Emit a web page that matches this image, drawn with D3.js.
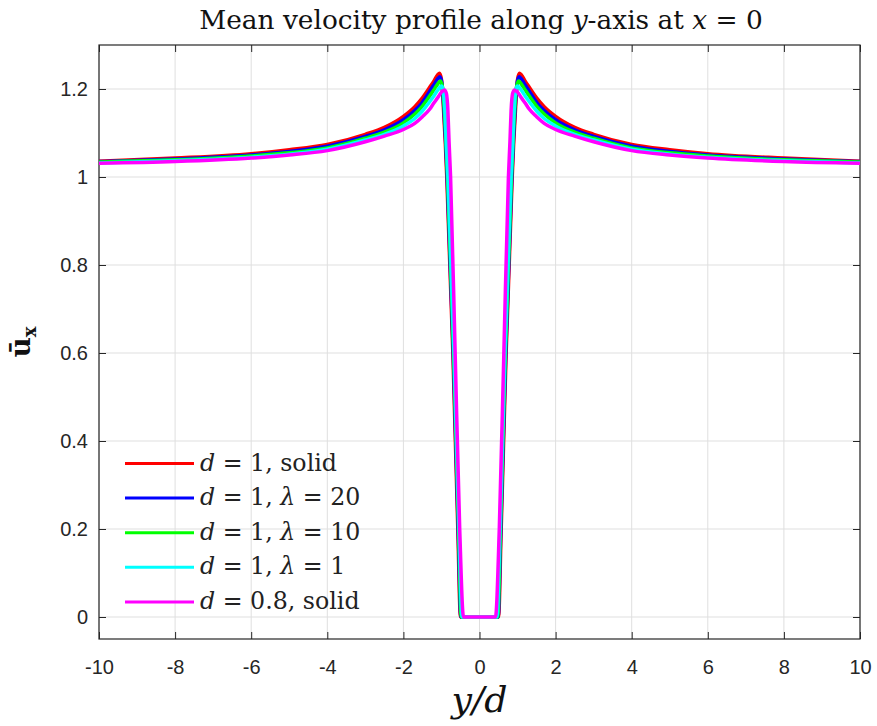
<!DOCTYPE html>
<html><head><meta charset="utf-8">
<script src="https://cdn.jsdelivr.net/npm/d3@7"></script>
<style>body{margin:0;background:#fff}svg{display:block}</style>
</head><body><svg id="c" width="877" height="726"></svg>
<script>
const xTicks = [-10,-8,-6,-4,-2,0,2,4,6,8,10];
const yTicks = [0,0.2,0.4,0.6,0.8,1,1.2];
const seriesNames = ["d = 1, solid","d = 1, λ = 20","d = 1, λ = 10","d = 1, λ = 1","d = 0.8, solid"];
const seriesColors = ["#ff0000","#0000ff","#00ff00","#00ffff","#ff00ff"];

const xRed = [-10,-8,-6,-5,-4,-3,-2.5,-2,-1.7,-1.5,-1.3,-1.2,-1.1,-1.05,-1.0,-0.95,-0.9,-0.86,-0.7,-0.57,-0.5,0,0.5,0.57,0.7,0.86,0.9,0.95,1.0,1.05,1.1,1.2,1.3,1.5,1.7,2,2.5,3,4,5,6,8,10];
const yRed = [1.036,1.043,1.053,1.062,1.074,1.097,1.113,1.138,1.160,1.180,1.205,1.218,1.232,1.236,1.222,1.160,1.080,1.000,0.600,0.200,0,0,0,0.200,0.600,1.000,1.080,1.160,1.222,1.236,1.232,1.218,1.205,1.180,1.160,1.138,1.113,1.097,1.074,1.062,1.053,1.043,1.036];

const xBlue = [-10,-8,-6,-5,-4,-3,-2.5,-2,-1.7,-1.5,-1.3,-1.2,-1.1,-1.04,-0.99,-0.94,-0.89,-0.85,-0.69,-0.56,-0.49,0,0.49,0.56,0.69,0.85,0.89,0.94,0.99,1.04,1.1,1.2,1.3,1.5,1.7,2,2.5,3,4,5,6,8,10];
const yBlue = [1.035,1.041,1.050,1.058,1.070,1.092,1.107,1.130,1.151,1.170,1.196,1.209,1.223,1.228,1.215,1.160,1.080,1.000,0.600,0.200,0,0,0,0.200,0.600,1.000,1.080,1.160,1.215,1.228,1.223,1.209,1.196,1.170,1.151,1.130,1.107,1.092,1.070,1.058,1.050,1.041,1.035];

const xGreen = [-10,-8,-6,-5,-4,-3,-2.5,-2,-1.7,-1.5,-1.3,-1.2,-1.1,-1.03,-0.98,-0.93,-0.88,-0.84,-0.68,-0.55,-0.48,0,0.48,0.55,0.68,0.84,0.88,0.93,0.98,1.03,1.1,1.2,1.3,1.5,1.7,2,2.5,3,4,5,6,8,10];
const yGreen = [1.034,1.039,1.048,1.055,1.066,1.088,1.102,1.123,1.143,1.161,1.185,1.198,1.211,1.218,1.208,1.160,1.080,1.000,0.600,0.200,0,0,0,0.200,0.600,1.000,1.080,1.160,1.208,1.218,1.211,1.198,1.185,1.161,1.143,1.123,1.102,1.088,1.066,1.055,1.048,1.039,1.034];

const xCyan = [-10,-8,-6,-5,-4,-3,-2.5,-2,-1.7,-1.5,-1.3,-1.2,-1.1,-1.0,-0.96,-0.91,-0.87,-0.83,-0.67,-0.54,-0.46,0,0.46,0.54,0.67,0.83,0.87,0.91,0.96,1.0,1.1,1.2,1.3,1.5,1.7,2,2.5,3,4,5,6,8,10];
const yCyan = [1.032,1.037,1.045,1.052,1.063,1.084,1.097,1.116,1.133,1.150,1.172,1.184,1.197,1.207,1.200,1.150,1.070,1.000,0.600,0.200,0,0,0,0.200,0.600,1.000,1.070,1.150,1.200,1.207,1.197,1.184,1.172,1.150,1.133,1.116,1.097,1.084,1.063,1.052,1.045,1.037,1.032];

const xMag = [-10,-8,-6,-5,-4,-3,-2.5,-2,-1.7,-1.5,-1.3,-1.2,-1.1,-1.0,-0.92,-0.87,-0.83,-0.8,-0.76,-0.64,-0.52,-0.42,0,0.42,0.52,0.64,0.76,0.8,0.83,0.87,0.92,1.0,1.1,1.2,1.3,1.5,1.7,2,2.5,3,4,5,6,8,10];
const yMag = [1.031,1.035,1.043,1.050,1.060,1.080,1.093,1.108,1.122,1.137,1.155,1.168,1.180,1.193,1.198,1.190,1.150,1.080,1.000,0.600,0.200,0,0,0,0.200,0.600,1.000,1.080,1.150,1.190,1.198,1.193,1.180,1.168,1.155,1.137,1.122,1.108,1.093,1.080,1.060,1.050,1.043,1.035,1.031];

const seriesX = [xRed,xBlue,xGreen,xCyan,xMag];
const seriesY = [yRed,yBlue,yGreen,yCyan,yMag];

const svg = d3.select("#c");
const L=99, R=860, T=45, B=639;
const x = d3.scaleLinear().domain([-10,10]).range([L,R]);
const y = d3.scaleLinear().domain([-0.05,1.3]).range([B,T]);
const axisCol = "#262626";

// grid
svg.append("g").selectAll("line").data(xTicks).join("line")
  .attr("x1",d=>x(d)).attr("x2",d=>x(d)).attr("y1",T).attr("y2",B)
  .attr("stroke","#dfdfdf").attr("stroke-width",1);
svg.append("g").selectAll("line").data(yTicks).join("line")
  .attr("y1",d=>y(d)).attr("y2",d=>y(d)).attr("x1",L).attr("x2",R)
  .attr("stroke","#dfdfdf").attr("stroke-width",1);

// axes
const fontTick = "'Liberation Sans', Arial, sans-serif";
const gx = svg.append("g").attr("transform",`translate(0,${B})`)
  .call(d3.axisBottom(x).tickValues(xTicks).tickSizeInner(-7).tickSizeOuter(0).tickPadding(21).tickFormat(d=>String(d)));
const gxt = svg.append("g").attr("transform",`translate(0,${T})`)
  .call(d3.axisTop(x).tickValues(xTicks).tickSizeInner(-7).tickSizeOuter(0).tickFormat(""));
const gy = svg.append("g").attr("transform",`translate(${L},0)`)
  .call(d3.axisLeft(y).tickValues(yTicks).tickSizeInner(-7).tickSizeOuter(0).tickPadding(11).tickFormat(d=>String(+d.toFixed(1))));
const gyr = svg.append("g").attr("transform",`translate(${R},0)`)
  .call(d3.axisRight(y).tickValues(yTicks).tickSizeInner(-7).tickSizeOuter(0).tickFormat(""));
[gx,gxt,gy,gyr].forEach(g=>{
  g.attr("font-size",20).attr("font-family",fontTick);
  g.select(".domain").remove();
  g.selectAll("line").attr("stroke",axisCol);
  g.selectAll("text").attr("fill",axisCol).attr("font-family",fontTick).attr("font-size",20);
});
svg.append("rect").attr("x",L).attr("y",T).attr("width",R-L).attr("height",B-T)
  .attr("fill","none").attr("stroke",axisCol).attr("stroke-width",1.2);

// lines
const line = d3.line().x(d=>x(d[0])).y(d=>y(d[1])).curve(d3.curveMonotoneX);
seriesX.forEach((xs,i)=>{
  const pts = xs.map((v,j)=>[v,seriesY[i][j]]);
  svg.append("path").datum(pts).attr("d",line)
    .attr("fill","none").attr("stroke",seriesColors[i]).attr("stroke-width",3.5)
    .attr("stroke-linejoin","round");
});

const serif = "'DejaVu Serif','Liberation Serif',serif";
function fitWidth(sel, target){
  const w = sel.node().getComputedTextLength();
  const fs = parseFloat(sel.attr("font-size"));
  sel.attr("font-size", fs*target/w);
}

// legend
const legY0 = 463.5, legDy = 34.6;
const leg = svg.append("g");
seriesNames.forEach((name,i)=>{
  const yy = legY0 + i*legDy;
  leg.append("line").attr("x1",125).attr("x2",194).attr("y1",yy).attr("y2",yy)
    .attr("stroke",seriesColors[i]).attr("stroke-width",3);
  const t = leg.append("text").attr("x",200).attr("y",yy+7).attr("font-family",serif)
    .attr("font-size",20).attr("fill","#222");
  const parts = name.split(", ");
  const first = parts[0].split(" = ");
  t.append("tspan").attr("font-style","italic").text(first[0]);
  t.append("tspan").text(" = " + first[1] + ", ");
  const second = parts[1];
  if (second.indexOf("=")>=0) {
    const sp = second.split(" = ");
    t.append("tspan").attr("font-style","italic").text(sp[0]);
    t.append("tspan").text(" = " + sp[1]);
  } else {
    t.append("tspan").text(second);
  }
  if (i===0) fitWidth(t, 137);
  else t.attr("font-size", leg.select("text").attr("font-size"));
});

// title
const title = svg.append("text").attr("x",481).attr("y",29).attr("text-anchor","middle")
  .attr("font-family",serif).attr("font-size",22).attr("fill","#111");
title.append("tspan").text("Mean velocity profile along ");
title.append("tspan").attr("font-style","italic").text("y");
title.append("tspan").text("-axis at ");
title.append("tspan").attr("font-style","italic").text("x");
title.append("tspan").text(" = 0");
fitWidth(title, 564);

// x label
const xl = svg.append("text").attr("x",479.5).attr("y",712).attr("text-anchor","middle")
  .attr("font-family",serif).attr("font-size",30).attr("font-style","italic").attr("fill","#111");
xl.text("y/d");
fitWidth(xl, 56);

// y label
const yl = svg.append("text").attr("transform","translate(30,342) rotate(-90)").attr("text-anchor","middle")
  .attr("font-family","'DejaVu Serif',serif").attr("font-size",28).attr("font-weight","bold").attr("fill","#111");
yl.append("tspan").text("ū");
yl.append("tspan").attr("font-size",18).attr("dy",6).text("x");
</script></body></html>
